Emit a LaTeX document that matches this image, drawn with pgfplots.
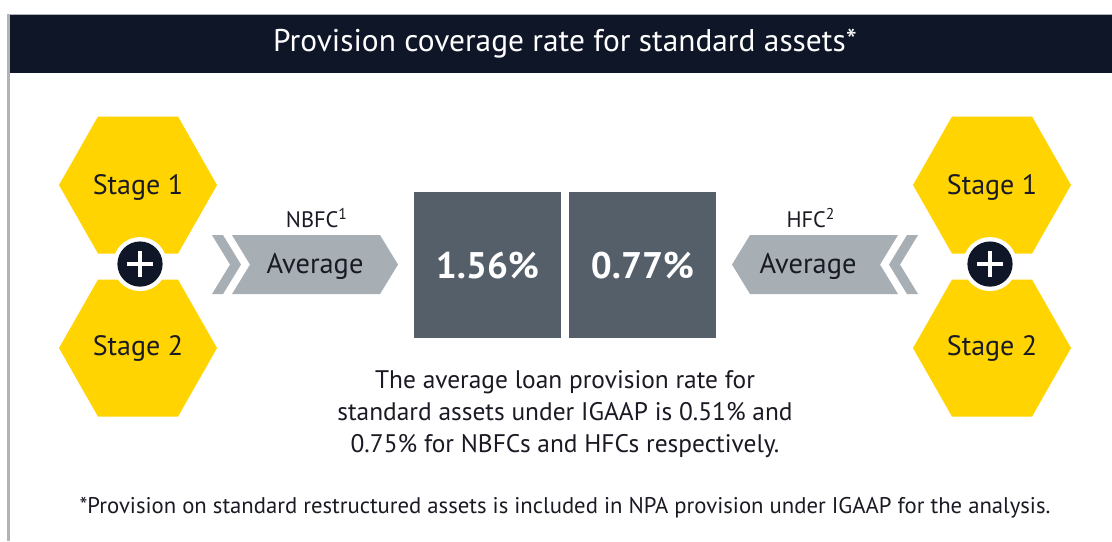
\documentclass[border=0pt]{standalone}
\usepackage{fontspec}
\setmainfont{PT Sans}
\usepackage{pgfplots}
\pgfplotsset{compat=1.18}
\definecolor{eyNavy}{RGB}{14,22,40}
\definecolor{eyYellow}{RGB}{255,212,0}
\definecolor{eyArrow}{RGB}{167,174,180}
\definecolor{eyBox}{RGB}{85,95,106}
\definecolor{eyText}{RGB}{26,26,36}
\definecolor{eyRule}{RGB}{176,180,184}

% hexagon centred at (#1,#2), pixel units
\newcommand{\hex}[2]{%
  \fill[eyYellow] (axis cs:{#1-79},#2) -- (axis cs:{#1-40},{#2-68.5}) -- (axis cs:{#1+40},{#2-68.5})
    -- (axis cs:{#1+79},#2) -- (axis cs:{#1+40},{#2+68.5}) -- (axis cs:{#1-40},{#2+68.5}) -- cycle;}
\newcommand{\plusdot}[2]{%
  \fill[white] (axis cs:#1,#2) circle[radius=13.5pt];
  \fill[eyNavy] (axis cs:#1,#2) circle[radius=11.3pt];
  \draw[white,line width=2pt] (axis cs:{#1-12.6},#2) -- (axis cs:{#1+12.6},#2)
    (axis cs:#1,{#2-12.6}) -- (axis cs:#1,{#2+12.6});}

\begin{document}
\begin{tikzpicture}
\begin{axis}[
  scale only axis, width=556pt, height=270.5pt,
  xmin=0, xmax=1112, ymin=0, ymax=541, y dir=reverse,
  hide axis, clip=false]
  \path[use as bounding box, fill=white] (axis cs:0,0) rectangle (axis cs:1112,541);

  % header band and frame
  \fill[eyNavy] (axis cs:7,14) rectangle (axis cs:1112,73);
  \draw[eyRule,line width=0.5pt] (axis cs:7,14) -- (axis cs:1112,14);
  \draw[eyRule,line width=1.5pt] (axis cs:8.5,14) -- (axis cs:8.5,541);
  \node[text=white,font=\fontsize{15.7}{18}\selectfont] at (axis cs:565,44) {Provision coverage rate for standard assets*};

  % stage hexagons
  \hex{138}{185}\hex{138}{348}
  \hex{992}{185}\hex{992}{348}
  \plusdot{140}{264}\plusdot{990}{264}
  \node[text=eyText,font=\fontsize{14}{16}\selectfont] at (axis cs:138,187) {Stage 1};
  \node[text=eyText,font=\fontsize{14}{16}\selectfont] at (axis cs:138,348) {Stage 2};
  \node[text=eyText,font=\fontsize{14}{16}\selectfont] at (axis cs:992,187) {Stage 1};
  \node[text=eyText,font=\fontsize{14}{16}\selectfont] at (axis cs:992,348) {Stage 2};

  % arrows
  \fill[eyArrow] (axis cs:212,235) -- (axis cs:223,235) -- (axis cs:241,264.5) -- (axis cs:223,294) -- (axis cs:212,294) -- (axis cs:230,264.5) -- cycle;
  \fill[eyArrow] (axis cs:232,235) -- (axis cs:380,235) -- (axis cs:398,264.5) -- (axis cs:380,294) -- (axis cs:232,294) -- (axis cs:250,264.5) -- cycle;
  \fill[eyArrow] (axis cs:918,235) -- (axis cs:907,235) -- (axis cs:889,264.5) -- (axis cs:907,294) -- (axis cs:918,294) -- (axis cs:900,264.5) -- cycle;
  \fill[eyArrow] (axis cs:898,235) -- (axis cs:750,235) -- (axis cs:732,264.5) -- (axis cs:750,294) -- (axis cs:898,294) -- (axis cs:880,264.5) -- cycle;
  \node[text=eyText,font=\fontsize{14.2}{16}\selectfont] at (axis cs:315,266) {Average};
  \node[text=eyText,font=\fontsize{14.2}{16}\selectfont] at (axis cs:808,266) {Average};
  \node[text=eyText,font=\fontsize{11.2}{14}\selectfont] at (axis cs:317,218) {NBFC\textsuperscript{1}};
  \node[text=eyText,font=\fontsize{11.2}{14}\selectfont] at (axis cs:811,218) {HFC\textsuperscript{2}};

  % value boxes
  \fill[eyBox] (axis cs:414,192) rectangle (axis cs:561,338);
  \fill[eyBox] (axis cs:569,192) rectangle (axis cs:716,338);
  \addplot[draw=none, mark=none, point meta=explicit,
    nodes near coords={\pgfmathprintnumber[fixed,fixed zerofill,precision=2,assume math mode=true]{\pgfplotspointmeta}\%},
    nodes near coords align=center,
    every node near coord/.append style={text=white,font=\fontsize{18.5}{20}\selectfont\bfseries}]
    table[x=x,y=y,meta=v] {
x y v
487.5 265 1.56
642.5 265 0.77
};

  % notes
  \node[text=eyText,align=center,font=\fontsize{12.7}{16}\selectfont] at (axis cs:565,414)
    {The average loan provision rate for\\standard assets under IGAAP is 0.51\% and\\0.75\% for NBFCs and HFCs respectively.};
  \node[text=eyText,font=\fontsize{11.35}{13}\selectfont] at (axis cs:565,508)
    {*Provision on standard restructured assets is included in NPA provision under IGAAP for the analysis.};
\end{axis}
\end{tikzpicture}
\end{document}
